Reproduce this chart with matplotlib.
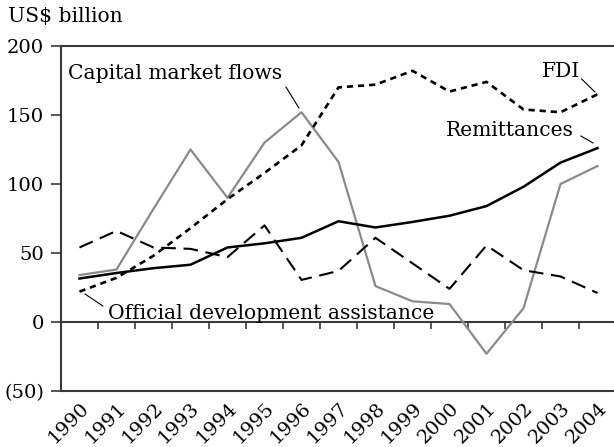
import matplotlib
matplotlib.use("Agg")
import matplotlib.pyplot as plt
import numpy as np
from matplotlib.ticker import FuncFormatter

years = ["1990", "1991", "1992", "1993", "1994", "1995", "1996", "1997",
         "1998", "1999", "2000", "2001", "2002", "2003", "2004"]
fdi = [22, 32, 48, 68, 89, 108, 128, 170, 172, 182, 167, 174, 154, 152, 165]
capital_market = [34, 38, 82, 125, 90, 130, 152, 116, 26, 15, 13, -23, 10, 100, 113]
remittances = [31.5, 35.5, 39, 41.5, 54, 57, 61, 73, 68.5, 72.5, 77, 84, 98, 115.5, 126]
oda = [54, 66, 54, 53, 47, 70, 30.5, 37, 61, 42.5, 24, 55.5, 37.5, 33, 21]

yticks = [-50, 0, 50, 100, 150, 200]

plt.rcParams['font.family'] = ['DejaVu Serif', 'Liberation Serif']
plt.rcParams['lines.scale_dashes'] = False
FS = 14
FSA = 14.6

fig = plt.figure(figsize=(6.14, 4.47), dpi=100)
ax = fig.add_axes([0.0993, 0.1253, 0.904, 0.7718])

x = np.arange(len(years))

ax.plot(x, capital_market, color='#8a8a8a', lw=1.6, zorder=3)
ax.plot(x, remittances, color='black', lw=1.8, zorder=4)
ax.plot(x, oda, color='black', lw=1.5, linestyle=(0, (10.5, 5.5)), zorder=4)
ax.plot(x, fdi, color='black', lw=1.9, linestyle=(0, (4.5, 3.5)), zorder=4)

ax.set_xlim(-0.5, 14.5)
ax.set_ylim(-50, 200)

spine_color = '#3a3a3a'
for s in ['left', 'top', 'bottom']:
    ax.spines[s].set_color(spine_color)
    ax.spines[s].set_linewidth(1.5)
ax.spines['right'].set_visible(False)

ax.axhline(0, color=spine_color, lw=1.5, zorder=2)
# category boundary ticks on the zero line
ax.vlines(np.arange(0.5, len(years) - 1, 1.0), -5.1, 0, color=spine_color, lw=1.2, zorder=2)

ax.set_yticks(yticks)
ax.yaxis.set_major_formatter(FuncFormatter(lambda v, p: f"({abs(int(v))})" if v < 0 else f"{int(v)}"))
ax.tick_params(axis='y', direction='out', length=7.2, width=1.2, color=spine_color,
               labelsize=FS, pad=5)

ax.set_xticks(x)
ax.set_xticklabels(years, rotation=45, ha='right', va='top', rotation_mode='anchor', fontsize=FS)
ax.tick_params(axis='x', length=0, pad=6)

fig.text(8 / 614, 1 - 21.7 / 447, "US$ billion", fontsize=FSA, ha='left', va='baseline')

ax.text(-0.31, 176, "Capital market flows", fontsize=FSA, ha='left', va='baseline')
ax.plot([5.58, 5.93], [170.3, 155.1], color='black', lw=0.8)

ax.text(12.49, 177.5, "FDI", fontsize=FSA, ha='left', va='baseline')
ax.plot([13.57, 13.93], [176.1, 166.7], color='black', lw=0.8)

ax.text(9.9, 134.8, "Remittances", fontsize=FSA, ha='left', va='baseline')
ax.plot([13.55, 13.88], [134.8, 129.7], color='black', lw=0.8)

ax.text(0.77, 2.0, "Official development assistance", fontsize=FSA, ha='left', va='baseline')
ax.plot([0.15, 0.63], [20.3, 11.6], color='black', lw=0.8)

fig.savefig("out.png", dpi=100)
